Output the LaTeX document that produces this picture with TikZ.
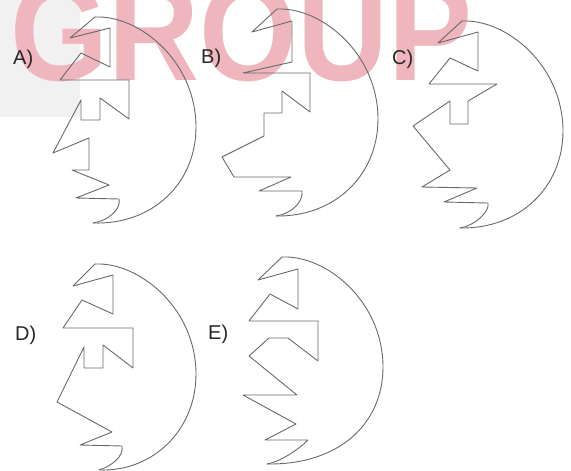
\documentclass[tikz,border=0pt]{standalone}
\usepackage{fontspec}
\usepackage{graphicx}
\setmainfont{Liberation Sans}
\definecolor{wm}{RGB}{240,182,190}
\definecolor{ln}{RGB}{105,105,105}
\definecolor{wmgray}{RGB}{241,241,241}
\newcommand\eggarc[4]{\draw[fig, shift={(#1,#2)}] (#3,#4) .. controls (58,208) and (101,166) .. (101,110) .. controls (101,45) and (45,-2) .. (0,0);}
\begin{document}
\begin{tikzpicture}[x=1pt,y=-1pt,
  fig/.style={draw=ln, line width=0.9pt, line join=round, line cap=round},
  lbl/.style={anchor=base west, inner sep=0pt, font=\fontsize{20}{24}\selectfont, text=black!85}]
\useasboundingbox (0,0) rectangle (571,471);
% watermark
\fill[wmgray] (0,0) rectangle (80,117);
\node[anchor=base west, inner sep=0pt, text=wm, font=\fontsize{126}{130}\selectfont\bfseries] (wmk) at (10,80) {\scalebox{1}[1.12]{GROUP}};
% A
\draw[fig] (95,17) -- (70,38) -- (110,28) -- (110,67) -- (81,53) -- (60,80) -- (129,80) -- (129,119) -- (100,98) -- (100,120) -- (81,120) -- (81,100) -- (53,153) -- (89,138) -- (89,170) -- (72,170) -- (109,185) -- (76,198) -- (119,199) .. controls (121.5,209) and (108,221) .. (93,223);
\eggarc{95}{17}{-2}{206}
% B
\draw[fig] (277,9) -- (252,32) -- (292,21) -- (292,62) -- (243,73) -- (310,73) -- (310,112) -- (282,91) -- (282,113) -- (264,113) -- (264,136) -- (222,157) -- (234,177) -- (291,177) -- (259,191) -- (302,191) .. controls (303.5,203) and (290,214) .. (276,216);
\eggarc{277}{9}{-1}{207}
% C
\draw[fig] (462,21) -- (438,43) -- (478,32) -- (478,71) -- (450,58) -- (429,84) -- (497,84) -- (468,101) -- (468,124) -- (450,124) -- (450,101) -- (413,126) -- (450,170) -- (422,187) -- (477,188) -- (444,202) -- (488,203) .. controls (490,212) and (474,226) .. (460,228);
\eggarc{462}{21}{-2}{207}
% D
\draw[fig] (95,264) -- (73,286) -- (113,275) -- (113,314) -- (82,300) -- (63,328) -- (133,328) -- (133,368) -- (103,345) -- (103,368) -- (84,368) -- (84,347) -- (57,402) -- (112,432) -- (80,445) -- (122,446) .. controls (124,456) and (112,466) .. (99,470);
\eggarc{95}{264}{4}{206}
% E
\draw[fig] (282,257) -- (258,280) -- (298,269) -- (298,309) -- (270,294) -- (249,321) -- (318,321) -- (318,361) -- (288,338) -- (269,338) -- (249,356) -- (297,395) -- (243,395) -- (296,424) -- (265,440) -- (308,440) .. controls (301,447) and (283,461) .. (267,464);
\eggarc{282}{257}{-15}{207}
% labels
\node[lbl] (la) at (13,64) {A)};
\node[lbl] (lb) at (201,63) {B)};
\node[lbl] (lc) at (392,64) {C)};
\node[lbl] (ld) at (15,340) {D)};
\node[lbl] (le) at (208,339) {E)};
\end{tikzpicture}
\end{document}
